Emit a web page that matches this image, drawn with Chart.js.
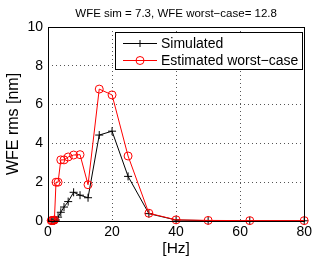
<!DOCTYPE html>
<html>
<head>
<meta charset="utf-8">
<script src="https://cdn.jsdelivr.net/npm/chart.js@4/dist/chart.umd.min.js"></script>
<style>
  html, body { margin: 0; padding: 0; background: #fff; }
  #wrap { width: 315px; height: 258px; }
</style>
</head>
<body>
<div id="wrap"><canvas id="wfeChart"></canvas></div>
<script>
// third-octave band centre frequencies [Hz]
const freqs = [1, 1.25, 1.6, 2, 2.5, 3.15, 4, 5, 6.3, 8, 10, 12.5, 16, 20, 25, 31.5, 40, 50, 63, 80];
const simulated = [0.01, 0.01, 0.01, 0.02, 0.05, 0.2, 0.45, 0.72, 1.0, 1.48, 1.33, 1.2, 4.43, 4.63, 2.3, 0.38, 0.05, 0.02, 0.01, 0.01];
const worstCase = [0.02, 0.02, 0.03, 0.05, 2.0, 2.0, 3.15, 3.15, 3.3, 3.4, 3.42, 1.87, 6.8, 6.5, 3.35, 0.4, 0.06, 0.03, 0.02, 0.02];
const xTicks = [0, 20, 40, 60, 80];
const yTicks = [0, 2, 4, 6, 8, 10];
const titleText = "WFE sim = 7.3, WFE worst\u2212case= 12.8";

const FONT = "'Liberation Sans', Arial, Helvetica, sans-serif";

const toXY = (ys) => freqs.map((f, i) => ({ x: f, y: ys[i] }));

// matlab style title, box and legend drawn over the axes
const boxLegend = {
  id: "boxLegend",
  afterDatasetsDraw(chart) {
    const { ctx, chartArea: a } = chart;
    ctx.save();
    ctx.strokeStyle = "#000";
    ctx.lineWidth = 1;
    ctx.setLineDash([]);
    ctx.strokeRect(Math.round(a.left) + 0.5, Math.round(a.top) + 0.5,
      Math.round(a.right - a.left), Math.round(a.bottom - a.top));

    // title centred over the plot area
    ctx.fillStyle = "#000";
    ctx.font = "11.5px " + FONT;
    ctx.textAlign = "center";
    ctx.textBaseline = "middle";
    ctx.fillText(titleText, (a.left + a.right) / 2, 13.5);

    // legend
    const lx = 115.5, ly = 32.5, lw = 187, lh = 37;
    ctx.fillStyle = "#fff";
    ctx.fillRect(lx, ly, lw, lh);
    ctx.strokeRect(lx, ly, lw, lh);
    ctx.font = "14px " + FONT;
    ctx.textAlign = "left";
    chart.data.datasets.forEach((ds, i) => {
      const y = [43, 60][i] + 0.5;
      ctx.strokeStyle = ds.borderColor;
      ctx.beginPath();
      ctx.moveTo(123, y);
      ctx.lineTo(157, y);
      ctx.stroke();
      const mx = 140;
      ctx.beginPath();
      if (ds.pointStyle === "cross") {
        ctx.moveTo(mx - 3.5, y); ctx.lineTo(mx + 3.5, y);
        ctx.moveTo(mx, y - 3.5); ctx.lineTo(mx, y + 3.5);
      } else {
        ctx.arc(mx, y, 4, 0, Math.PI * 2);
      }
      ctx.stroke();
      ctx.fillStyle = "#000";
      ctx.fillText(ds.label, 161, y + 0.5);
    });
    ctx.restore();
  }
};

new Chart(document.getElementById("wfeChart"), {
  type: "scatter",
  data: {
    datasets: [
      {
        label: "Simulated",
        data: toXY(simulated),
        showLine: true,
        borderColor: "#000",
        backgroundColor: "#000",
        borderWidth: 1,
        pointStyle: "cross",
        pointRadius: 4,
        pointBorderWidth: 1,
        pointBorderColor: "#000",
        order: 1,
        clip: false,
      },
      {
        label: "Estimated worst\u2212case",
        data: toXY(worstCase),
        showLine: true,
        borderColor: "#ff0000",
        backgroundColor: "rgba(0,0,0,0)",
        borderWidth: 1,
        pointStyle: "circle",
        pointRadius: 4,
        pointBorderWidth: 1,
        pointBorderColor: "#ff0000",
        pointBackgroundColor: "rgba(0,0,0,0)",
        order: 0,
        clip: false,
      },
    ],
  },
  options: {
    responsive: true,
    maintainAspectRatio: false,
    animation: false,
    layout: { padding: { left: 0, right: 9, top: 27, bottom: 0 } },
    plugins: {
      legend: { display: false },
      tooltip: { enabled: false },
      title: { display: false },
    },
    scales: {
      x: {
        type: "linear",
        min: 0,
        max: 80,
        afterBuildTicks: (s) => { s.ticks = xTicks.map((v) => ({ value: v })); },
        afterFit: (s) => { s.height = 37; },
        ticks: { color: "#000", font: { family: FONT, size: 14 }, padding: 3, maxRotation: 0 },
        grid: { color: "#555", drawTicks: false, lineWidth: 1 },
        border: { display: false, dash: [1, 3] },
        title: {
          display: true,
          text: "[Hz]",
          color: "#000",
          font: { family: FONT, size: 15.5 },
          padding: { top: 0, bottom: 0 },
        },
      },
      y: {
        type: "linear",
        min: 0,
        max: 10,
        afterBuildTicks: (s) => { s.ticks = yTicks.map((v) => ({ value: v })); },
        afterFit: (s) => { s.width = 48; },
        ticks: { color: "#000", font: { family: FONT, size: 14 }, padding: 5 },
        grid: { color: "#555", drawTicks: false, lineWidth: 1 },
        border: { display: false, dash: [1, 3] },
        title: {
          display: true,
          text: "WFE rms [nm]",
          color: "#000",
          font: { family: FONT, size: 16 },
          padding: { top: 4, bottom: 0 },
        },
      },
    },
  },
  plugins: [boxLegend],
});
</script>
</body>
</html>
